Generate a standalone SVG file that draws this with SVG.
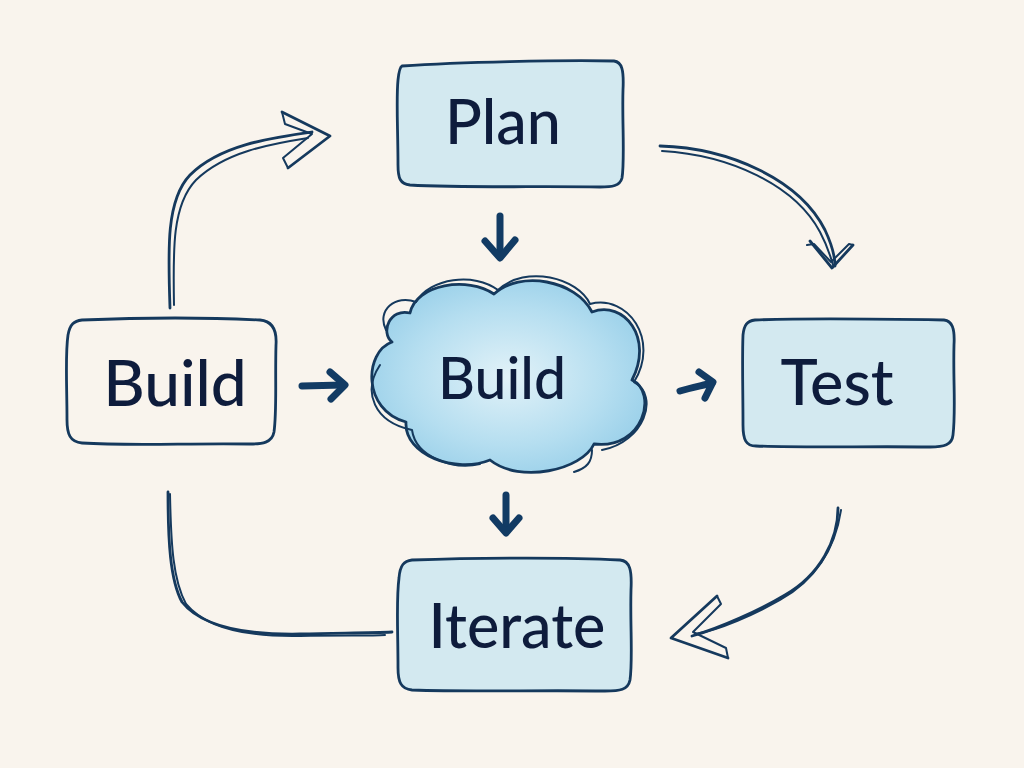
<svg xmlns="http://www.w3.org/2000/svg" width="1024" height="768" viewBox="0 0 1024 768">
<defs>
<radialGradient id="cloudFill" cx="0.5" cy="0.5" r="0.6">
<stop offset="0" stop-color="#e2f2f8"/>
<stop offset="0.6" stop-color="#b5def0"/>
<stop offset="1" stop-color="#94cde8"/>
</radialGradient>
<style>
.bg{fill:#f9f4ed}
.box{fill:#d3e9f0;stroke:#15395d;stroke-width:2.8;stroke-linejoin:round}
.boxw{fill:#f9f4ed;stroke:#15395d;stroke-width:2.8;stroke-linejoin:round}
.sk{fill:none;stroke:#15395d;stroke-width:2;stroke-linecap:round;stroke-linejoin:round}
.skt{fill:none;stroke:#15395d;stroke-width:2.8;stroke-linecap:round;stroke-linejoin:round}
.thick{fill:none;stroke:#123b64;stroke-width:7;stroke-linecap:round;stroke-linejoin:round}
.lbl{font-family:Lato,'Open Sans','Liberation Sans',sans-serif;font-weight:500;fill:#0e1c3c;text-anchor:middle}
</style>
</defs>
<rect class="bg" x="0" y="0" width="1024" height="768"/>

<g id="connectors">
  <path class="skt" d="M170,308 C168,250 166,200 190,175 C220,145 270,138 312,132"/>
  <path class="sk" d="M174,305 C173,250 172,205 196,180 C225,152 270,144 308,138"/>
  <path class="skt" d="M282,112 L330,136 L288,168"/>
  <path class="sk" d="M282,112 L285,124 L312,134 L283,158 L288,168"/>
  <path class="skt" d="M660,146 C730,148 800,180 825,230 C832,245 835,258 835,266"/>
  <path class="sk" d="M662,151 C730,155 795,185 820,232 C828,247 831,258 833,265"/>
  <path class="skt" d="M810,241 L832,268 L853,245"/>
  <path class="sk" d="M807,245 L814,244 L831,262 L849,244 L853,245"/>
  <path class="skt" d="M838,508 C838,540 820,575 785,595 C760,610 720,628 692,636"/>
  <path class="sk" d="M841,510 C835,550 815,580 780,600 C755,614 720,630 695,634"/>
  <path class="skt" d="M717,596 L671,638 L728,658"/>
  <path class="sk" d="M717,596 L721,604 L693,632 L726,648 L728,658"/>
  <path class="skt" d="M168,492 C168,540 170,580 182,602 C200,625 240,635 300,634 C340,633 370,633 392,632"/>
  <path class="sk" d="M170,494 C171,545 173,580 186,604 C205,627 245,637 300,636 C340,635 370,636 385,635"/>
  <path class="thick" d="M302,386 L343,385"/>
  <path class="thick" d="M330,372 L345,385 L331,399"/>
  <path class="thick" d="M680,391 C690,388 700,386 712,383"/>
  <path class="thick" d="M699,372 L713,382 L705,398"/>
  <path class="thick" d="M500,216 L500,256"/>
  <path class="thick" d="M485,241 L500,258 L515,240"/>
  <path class="thick" d="M506,495 L506,530"/>
  <path class="thick" d="M493,518 L506,533 L519,518"/>
</g>

<g id="plan">
  <path class="box" d="M402,66 C460,62 560,60 614,61 C622,62 624,70 623,90 C622,120 625,160 622,178 C620,186 612,187 600,187 C540,186 460,188 410,185 C400,184 398,178 398,165 C398,130 396,100 398,80 C399,70 400,67 402,66 Z"/>
  <text class="lbl" x="503" y="144" font-size="61">Plan</text>
</g>

<g id="build-left">
  <path class="boxw" d="M82,320 C130,318 200,317 260,320 C272,321 277,330 276,345 C275,380 277,410 274,432 C272,443 262,444 250,444 C190,443 130,446 82,443 C70,442 67,434 67,420 C67,385 65,355 68,335 C70,324 74,321 82,320 Z"/>
  <text class="lbl" x="175" y="406" font-size="64">Build</text>
</g>

<g id="build-cloud">
  <path fill="url(#cloudFill)" stroke="none" d="M392,342 C364,352 362,410 406,422 C404,455 456,474 490,460 C520,484 582,470 594,444 C644,450 658,392 632,380 C654,338 624,300 592,312 C576,280 520,270 494,294 C468,276 416,284 410,313 C390,308 380,332 392,342 Z"/>
  <path class="skt" d="M392,342 C364,352 362,410 406,422 C404,455 456,474 490,460 C520,484 582,470 594,444 C644,450 658,392 632,380 C654,338 624,300 592,312 C576,280 520,270 494,294 C468,276 416,284 410,313 C390,308 380,332 392,342 Z"/>
  <path class="sk" d="M386,330 C376,310 396,294 416,302 C430,278 474,272 498,290 C526,264 578,278 590,304 C628,294 660,340 634,382 C660,396 644,442 602,450 M380,365 C362,392 374,422 412,430 C416,458 454,470 480,464 M592,450 C592,462 587,468 574,472"/>
  <text class="lbl" x="502" y="399" font-size="57">Build</text>
</g>

<g id="test">
  <path class="box" d="M755,320 C810,318 880,319 944,320 C952,321 955,328 954,345 C953,380 956,410 953,435 C952,445 944,447 930,447 C870,446 810,448 756,446 C746,446 743,440 743,425 C743,390 742,360 743,335 C744,325 747,321 755,320 Z"/>
  <text class="lbl" x="837" y="405" font-size="63">Test</text>
</g>

<g id="iterate">
  <path class="box" d="M412,560 C470,558 560,557 620,560 C630,561 632,570 631,590 C630,625 633,660 630,680 C628,690 620,691 605,691 C540,690 470,692 412,690 C401,689 398,682 398,668 C398,630 396,600 399,578 C400,565 404,561 412,560 Z"/>
  <text class="lbl" x="517" y="648" font-size="61">Iterate</text>
</g>
</svg>
